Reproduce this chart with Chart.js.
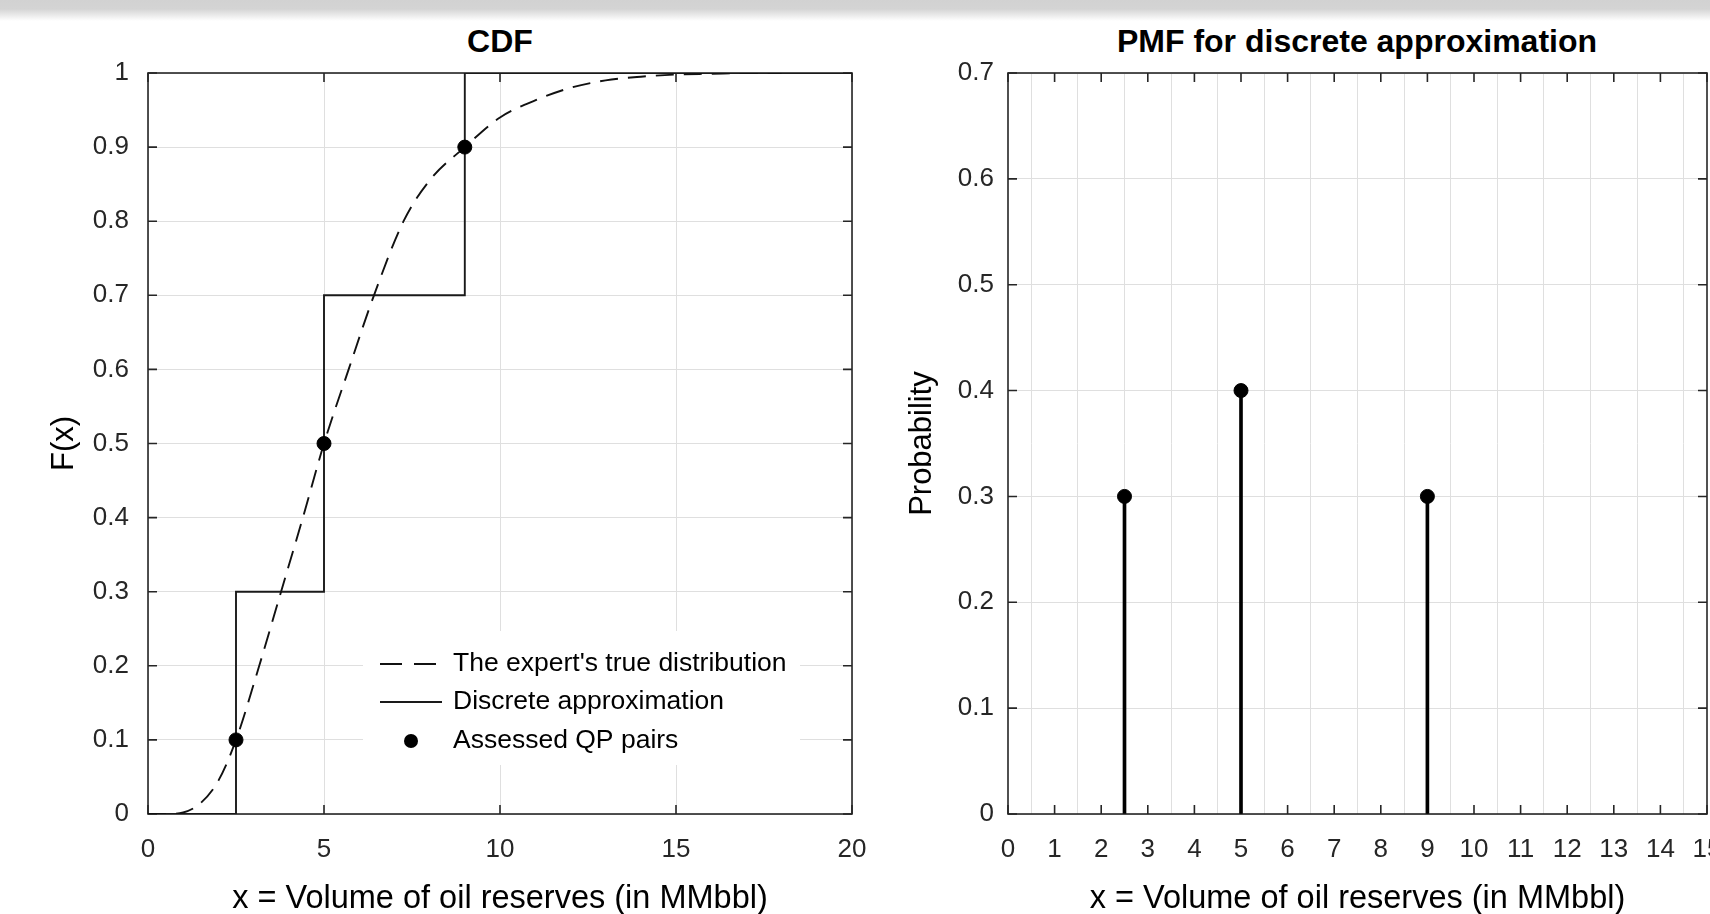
<!DOCTYPE html>
<html>
<head>
<meta charset="utf-8">
<title>CDF and PMF of oil reserves</title>
<script src="https://cdn.jsdelivr.net/npm/chart.js@4.4.1/dist/chart.umd.min.js"></script>
<style>
  html, body { margin: 0; padding: 0; background: #fff; overflow: hidden; width: 1710px; height: 914px; }
  .topbar {
    position: absolute; left: 0; top: 0; width: 1710px; height: 22px; z-index: 2;
    background: linear-gradient(#d2d2d2, #d4d4d4 9px, #ffffff 21px);
  }
  canvas { position: absolute; top: 0; }
  #cdf-chart { left: 0; }
  #pmf-chart { left: 860px; }
  .plot-title {
    position: absolute; top: 23px; line-height: 40px; transform: translateX(-50%);
    font: bold 32px "Liberation Sans", Arial, sans-serif; color: #000; white-space: nowrap;
  }
</style>
</head>
<body>
<div class="topbar"></div>
<div class="plot-title" style="left:500px">CDF</div>
<div class="plot-title" style="left:1357px">PMF for discrete approximation</div>
<canvas id="cdf-chart" width="900" height="914"></canvas>
<canvas id="pmf-chart" width="900" height="914"></canvas>

<script>
// ── Data ─────────────────────────────────────────────────────────────────────
// expert's smooth CDF (dashed)
const cdfX = [0, 0.5, 1, 1.5, 2, 2.5, 3.16, 3.78, 4.4, 5, 5.7, 6.42, 7.26, 8, 9, 10, 11, 12, 13, 14, 15, 16, 17, 18];
const cdfY = [0, 0, 0.002, 0.015, 0.045, 0.1, 0.2, 0.3, 0.4, 0.5, 0.6, 0.7, 0.8, 0.855, 0.9, 0.94, 0.963, 0.98, 0.99, 0.995, 0.998, 0.999, 1, 1];

// discrete approximation (step CDF)
const stepX = [0, 2.5, 5, 9, 20];
const stepY = [0, 0.3, 0.7, 1, 1];

// assessed quantile/probability pairs
const qpX = [2.5, 5, 9];
const qpY = [0.1, 0.5, 0.9];

// PMF of the discrete approximation
const pmfX = [2.5, 5, 9];
const pmfP = [0.3, 0.4, 0.3];

const xTitle = "x = Volume of oil reserves (in MMbbl)";

// ── Look ─────────────────────────────────────────────────────────────────────
const FONT = '"Liberation Sans", Arial, sans-serif';
const AXIS_COLOR = "#262626";
const GRID_COLOR = "#dfdfdf";
const TICK_LEN = 9;

Chart.defaults.font.family = FONT;
Chart.defaults.color = AXIS_COLOR;

const pts = (xs, ys) => xs.map((x, i) => ({ x, y: ys[i] }));
const fmtTick = v => String(+v.toFixed(2));

// MATLAB-style box with inward tick marks on all four sides
const axesBox = {
  id: "axesBox",
  beforeDatasetsDraw(chart) {
    const { ctx, chartArea: a, scales } = chart;
    ctx.save();
    ctx.strokeStyle = AXIS_COLOR;
    ctx.lineWidth = 1.6;
    ctx.beginPath();
    scales.x.ticks.forEach(t => {
      const px = scales.x.getPixelForValue(t.value);
      ctx.moveTo(px, a.bottom); ctx.lineTo(px, a.bottom - TICK_LEN);
      ctx.moveTo(px, a.top); ctx.lineTo(px, a.top + TICK_LEN);
    });
    scales.y.ticks.forEach(t => {
      const py = scales.y.getPixelForValue(t.value);
      ctx.moveTo(a.left, py); ctx.lineTo(a.left + TICK_LEN, py);
      ctx.moveTo(a.right, py); ctx.lineTo(a.right - TICK_LEN, py);
    });
    ctx.stroke();
    ctx.strokeRect(a.left, a.top, a.right - a.left, a.bottom - a.top);
    ctx.restore();
  }
};

// legend box inside the CDF axes (canvas coords)
const LEGEND = { left: 363, top: 631, right: 800, bottom: 765, rowY: [664, 702, 741], lineX0: 380, lineX1: 442, textX: 453 };

const insideLegend = {
  id: "insideLegend",
  afterDatasetsDraw(chart) {
    const { ctx } = chart;
    ctx.save();
    ctx.fillStyle = "#fff";
    ctx.fillRect(LEGEND.left, LEGEND.top, LEGEND.right - LEGEND.left, LEGEND.bottom - LEGEND.top);
    chart.data.datasets.forEach((ds, i) => {
      const y = LEGEND.rowY[i];
      if (ds.showLine === false) {
        ctx.fillStyle = ds.pointBackgroundColor;
        ctx.beginPath();
        ctx.arc((LEGEND.lineX0 + LEGEND.lineX1) / 2, y, ds.pointRadius, 0, Math.PI * 2);
        ctx.fill();
      } else {
        ctx.strokeStyle = ds.borderColor;
        ctx.lineWidth = ds.borderWidth;
        ctx.setLineDash(ds.borderDash ? [22, 12] : []);
        ctx.beginPath();
        ctx.moveTo(LEGEND.lineX0, y);
        ctx.lineTo(LEGEND.lineX1, y);
        ctx.stroke();
        ctx.setLineDash([]);
      }
      ctx.fillStyle = "#000";
      ctx.font = "26.5px " + FONT;
      ctx.textBaseline = "middle";
      ctx.textAlign = "left";
      ctx.fillText(ds.label, LEGEND.textX, y);
    });
    ctx.restore();
  }
};

function axisOpts(min, max, step, pad, extra) {
  return Object.assign({
    type: "linear",
    min, max,
    ticks: { stepSize: step, autoSkip: false, maxTicksLimit: 30, padding: pad, font: { size: 26 }, color: AXIS_COLOR, callback: fmtTick },
    grid: { color: GRID_COLOR, lineWidth: 1, drawTicks: false },
    border: { display: false },
  }, extra);
}

const xTitleOpts = { display: true, text: xTitle, font: { size: 32.5, lineHeight: 0.9 }, color: "#000", padding: { top: 0, bottom: 0 } };

// ── CDF chart ────────────────────────────────────────────────────────────────
new Chart(document.getElementById("cdf-chart"), {
  type: "line",
  data: {
    datasets: [
      {
        label: "The expert's true distribution",
        data: pts(cdfX, cdfY),
        borderColor: "#111",
        borderWidth: 1.9,
        borderDash: [18, 10],
        pointRadius: 0,
        cubicInterpolationMode: "monotone",
        fill: false,
        order: 1,
      },
      {
        label: "Discrete approximation",
        data: pts(stepX, stepY),
        borderColor: "#1a1a1a",
        borderWidth: 1.9,
        stepped: "before",
        pointRadius: 0,
        fill: false,
        order: 1,
      },
      {
        label: "Assessed QP pairs",
        data: pts(qpX, qpY),
        showLine: false,
        pointRadius: 7,
        pointBackgroundColor: "#000",
        pointBorderColor: "#000",
        order: -1,
      },
    ],
  },
  options: {
    responsive: false,
    animation: false,
    layout: { padding: { top: 73, right: 48, bottom: 0, left: 0 }, autoPadding: false },
    plugins: { legend: { display: false }, tooltip: { enabled: false } },
    scales: {
      x: axisOpts(0, 20, 5, 20, {
        title: xTitleOpts,
        afterFit: s => { s.height = 100; },
      }),
      y: axisOpts(0, 1, 0.1, 19, {
        title: { display: true, text: "F(x)", font: { size: 31 }, color: "#000", padding: { top: 46, bottom: 0 } },
        afterFit: s => { s.width = 148; },
      }),
    },
  },
  plugins: [axesBox, insideLegend],
});

// ── PMF chart ────────────────────────────────────────────────────────────────
new Chart(document.getElementById("pmf-chart"), {
  type: "scatter",
  data: {
    datasets: [
      {
        type: "scatter",
        label: "PMF",
        data: pts(pmfX, pmfP),
        pointRadius: 7,
        pointBackgroundColor: "#000",
        pointBorderColor: "#000",
      },
      {
        type: "bar",
        label: "stems",
        data: pts(pmfX, pmfP),
        backgroundColor: "#000",
        barThickness: 3,
        grouped: false,
      },
    ],
  },
  options: {
    responsive: false,
    animation: false,
    layout: { padding: { top: 73, right: 53, bottom: 0, left: 0 }, autoPadding: false },
    plugins: { legend: { display: false }, tooltip: { enabled: false } },
    scales: {
      x: axisOpts(0, 15, 1, 20, {
        offset: false,
        title: xTitleOpts,
        afterFit: s => { s.height = 100; },
      }),
      y: axisOpts(0, 0.7, 0.1, 14, {
        beginAtZero: true,
        title: { display: true, text: "Probability", font: { size: 31 }, color: "#000", padding: { top: 44, bottom: 0 } },
        afterFit: s => { s.width = 148; },
      }),
    },
  },
  plugins: [axesBox],
});
</script>
</body>
</html>
